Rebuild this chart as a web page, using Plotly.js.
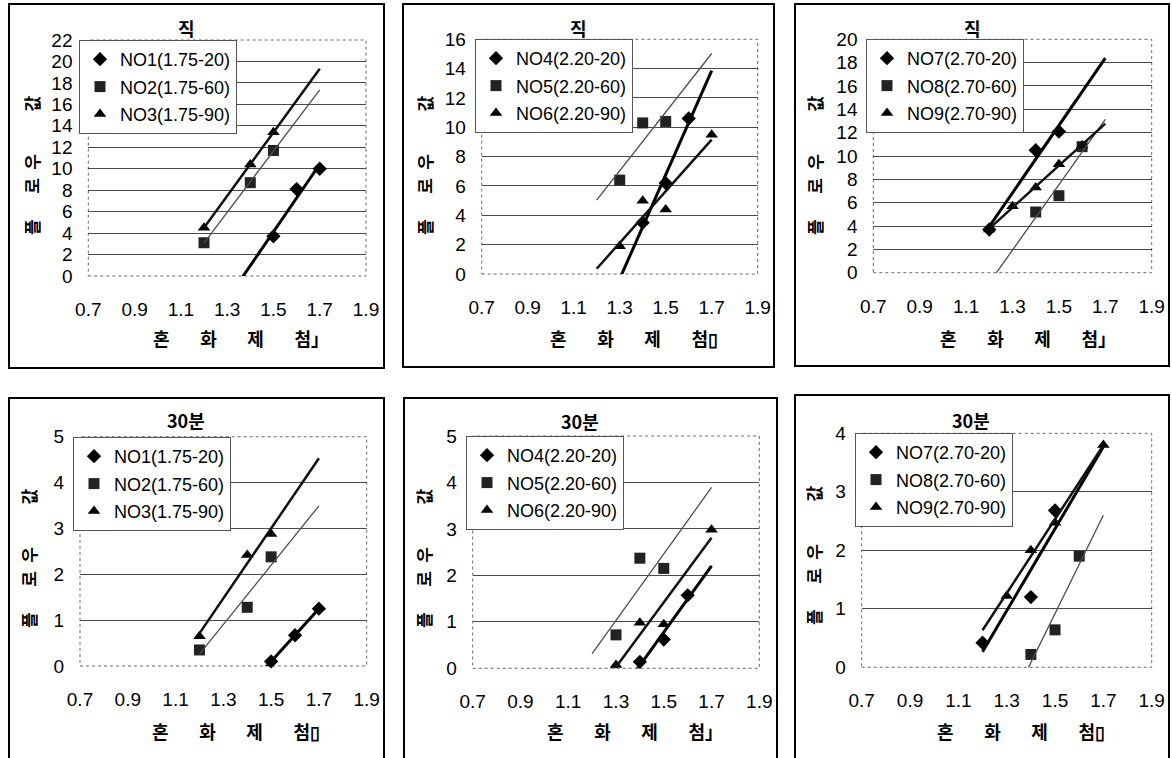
<!DOCTYPE html>
<html>
<head>
<meta charset="utf-8">
<script src="https://cdn.plot.ly/plotly-3.0.1.min.js"></script>
<style>
  html, body { margin: 0; padding: 0; background: #fff; }
  #chart { width: 1172px; height: 758px; }
</style>
</head>
<body>
<div id="chart"></div>
<script>
// ---- data -------------------------------------------------------------
// admixture dosage ticks shared by every panel
const xTicks = [0.7, 0.9, 1.1, 1.3, 1.5, 1.7, 1.9];
// span over which every linear trend line is evaluated
const trendX = [1.2, 1.7];

const panelTitles = ['직', '직', '직', '30분', '30분', '30분'];
const xTitles = ['혼 화 제 첨」', '혼 화 제 첨▯', '혼 화 제 첨」', '혼 화 제 첨▯', '혼 화 제 첨」', '혼 화 제 첨▯'];
const yTitle = '플 로 우 값';

const yTicks1 = [0, 2, 4, 6, 8, 10, 12, 14, 16, 18, 20, 22];
const yTicks2 = [0, 2, 4, 6, 8, 10, 12, 14, 16];
const yTicks3 = [0, 2, 4, 6, 8, 10, 12, 14, 16, 18, 20];
const yTicks4 = [0, 1, 2, 3, 4, 5];
const yTicks5 = [0, 1, 2, 3, 4, 5];
const yTicks6 = [0, 1, 2, 3, 4];

const names1 = ['NO1(1.75-20)', 'NO2(1.75-60)', 'NO3(1.75-90)'];
const names2 = ['NO4(2.20-20)', 'NO5(2.20-60)', 'NO6(2.20-90)'];
const names3 = ['NO7(2.70-20)', 'NO8(2.70-60)', 'NO9(2.70-90)'];

// immediately after mixing
const x1 = [[1.5, 1.6, 1.7], [1.2, 1.4, 1.5], [1.2, 1.4, 1.5]];
const y1 = [[3.7, 8.1, 10.0], [3.1, 8.7, 11.7], [4.5, 10.4, 13.4]];
const x2 = [[1.4, 1.5, 1.6], [1.3, 1.4, 1.5], [1.3, 1.4, 1.5, 1.7]];
const y2 = [[3.5, 6.2, 10.6], [6.4, 10.3, 10.4], [1.9, 5.0, 4.4, 9.5]];
const x3 = [[1.2, 1.4, 1.5], [1.4, 1.5, 1.6], [1.2, 1.3, 1.4, 1.5, 1.6]];
const y3 = [[3.7, 10.5, 12.1], [5.2, 6.6, 10.8], [3.7, 5.7, 7.3, 9.3, 10.9]];
// after 30 minutes
const x4 = [[1.5, 1.6, 1.7], [1.2, 1.4, 1.5], [1.2, 1.4, 1.5]];
const y4 = [[0.1, 0.67, 1.25], [0.35, 1.28, 2.38], [0.65, 2.42, 2.88]];
const x5 = [[1.4, 1.5, 1.6], [1.3, 1.4, 1.5], [1.3, 1.4, 1.5, 1.7]];
const y5 = [[0.14, 0.62, 1.57], [0.72, 2.37, 2.15], [0.07, 0.98, 0.95, 2.98]];
const x6 = [[1.2, 1.4, 1.5], [1.4, 1.5, 1.6], [1.3, 1.4, 1.5, 1.7]];
const y6 = [[0.42, 1.2, 2.68], [0.22, 0.64, 1.9], [1.22, 2.0, 2.47, 3.8]];

// ---- layout helpers -----------------------------------------------------
const W = 1172, H = 758;
const px = v => v / W;
const py = v => 1 - v / H;

// pixel boxes: plot area, outer frame, title centre, axis titles, legend corner
const geom = [
  { plot: [88.3, 40, 366, 276],      frame: [9, 4, 384, 368],     title: [187, 28],  xt: [151, 338], yt: [32, 166],  leg: [79, 40] },
  { plot: [481.7, 39.3, 757.7, 274], frame: [403, 4, 774, 367],   title: [578, 28],  xt: [548, 338], yt: [425, 166], leg: [475, 39] },
  { plot: [873.3, 39.3, 1151.7, 272.7], frame: [795, 4, 1169, 366], title: [972, 28], xt: [938, 338], yt: [815, 166], leg: [866, 39] },
  { plot: [80, 436.7, 366.7, 666],   frame: [9, 398, 384, 775],   title: [186, 420], xt: [150, 731], yt: [28, 559],  leg: [73, 437] },
  { plot: [472.7, 436, 759.3, 668.3], frame: [404, 398, 777, 775], title: [580, 421], xt: [545, 731], yt: [423, 559], leg: [466, 436] },
  { plot: [861.7, 433.3, 1151.7, 667.3], frame: [795, 395, 1169, 775], title: [971, 420], xt: [935, 731], yt: [813, 556], leg: [855, 433] }
];

const panelNames = [names1, names2, names3, names1, names2, names3];
const panelX = [x1, x2, x3, x4, x5, x6];
const panelY = [y1, y2, y3, y4, y5, y6];
const panelYTicks = [yTicks1, yTicks2, yTicks3, yTicks4, yTicks5, yTicks6];

const symbols = ['diamond', 'square', 'triangle-up'];
const markerColors = ['#000000', '#222222', '#000000'];
const lineColors = ['#000000', '#4d4d4d', '#111111'];
const lineWidths = [3, 1.3, 2.5];

const latin = 'Liberation Sans, Arial, "Noto Sans CJK KR", sans-serif';
const hangul = '"Noto Sans CJK KR", "Noto Sans", sans-serif';

// least-squares straight line through a series
function linearFit(xs, ys) {
  const n = xs.length;
  const mx = xs.reduce((a, b) => a + b, 0) / n;
  const my = ys.reduce((a, b) => a + b, 0) / n;
  let sxy = 0, sxx = 0;
  for (let i = 0; i < n; i++) {
    sxy += (xs[i] - mx) * (ys[i] - my);
    sxx += (xs[i] - mx) * (xs[i] - mx);
  }
  const slope = sxy / sxx;
  return x => my + slope * (x - mx);
}

const traces = [];
const layout = {
  width: W, height: H,
  margin: { l: 0, r: 0, t: 0, b: 0 },
  paper_bgcolor: '#ffffff',
  plot_bgcolor: '#ffffff',
  font: { family: latin, size: 19, color: '#000' },
  showlegend: true,
  shapes: [],
  annotations: []
};

geom.forEach((g, p) => {
  const k = p === 0 ? '' : String(p + 1);
  const xa = 'x' + k, ya = 'y' + k;
  const legId = 'legend' + k;
  const yt = panelYTicks[p];

  layout['xaxis' + k] = {
    domain: [px(g.plot[0]), px(g.plot[2])],
    anchor: ya,
    range: [0.7, 1.9],
    tickvals: xTicks,
    ticktext: xTicks.map(v => v.toFixed(1)),
    showgrid: false, zeroline: false, showline: false,
    ticks: 'outside', ticklen: 16, tickcolor: 'rgba(0,0,0,0)',
    tickfont: { size: 19, family: latin, color: '#000' },
    fixedrange: true
  };
  layout['yaxis' + k] = {
    domain: [py(g.plot[3]), py(g.plot[1])],
    anchor: xa,
    range: [yt[0], yt[yt.length - 1]],
    tickvals: yt,
    ticktext: yt.map(String),
    showgrid: true, gridcolor: '#4a4a4a', gridwidth: 1,
    zeroline: false, showline: false,
    ticks: 'outside', ticklen: 11, tickcolor: 'rgba(0,0,0,0)',
    tickfont: { size: 19, family: latin, color: '#000' },
    fixedrange: true
  };

  layout[legId] = {
    x: px(g.leg[0]), y: py(g.leg[1]),
    xanchor: 'left', yanchor: 'top',
    bgcolor: '#ffffff', bordercolor: '#555555', borderwidth: 1,
    font: { size: 18, family: latin, color: '#000' },
    tracegroupgap: 1,
    itemwidth: 30
  };

  // markers for the three series
  for (let s = 0; s < 3; s++) {
    traces.push({
      type: 'scatter', mode: 'markers',
      x: panelX[p][s], y: panelY[p][s],
      xaxis: xa, yaxis: ya,
      name: panelNames[p][s],
      legend: legId,
      legendgroup: 'p' + p + 's' + s,
      marker: { symbol: symbols[s], size: 11, color: markerColors[s], line: { width: 0 } },
      cliponaxis: false,
      hoverinfo: 'x+y+name'
    });
  }
  // linear trend lines drawn over the points
  for (let s = 0; s < 3; s++) {
    const f = linearFit(panelX[p][s], panelY[p][s]);
    traces.push({
      type: 'scatter', mode: 'lines',
      x: trendX, y: trendX.map(f),
      xaxis: xa, yaxis: ya,
      showlegend: false,
      legend: legId,
      line: { color: lineColors[s], width: lineWidths[s] },
      hoverinfo: 'skip'
    });
  }

  // dotted plot-area border
  layout.shapes.push({
    type: 'rect', xref: xa + ' domain', yref: ya + ' domain',
    x0: 0, x1: 1, y0: 0, y1: 1,
    line: { color: '#6a6a6a', width: 1, dash: 'dot' },
    fillcolor: 'rgba(0,0,0,0)', layer: 'below'
  });
  // outer chart frame
  layout.shapes.push({
    type: 'rect', xref: 'paper', yref: 'paper',
    x0: px(g.frame[0]), x1: px(g.frame[2]), y0: py(g.frame[3]), y1: py(g.frame[1]),
    line: { color: '#000000', width: 2 },
    fillcolor: 'rgba(0,0,0,0)', layer: 'above'
  });

  // chart title
  layout.annotations.push({
    xref: 'paper', yref: 'paper', x: px(g.title[0]), y: py(g.title[1]),
    xanchor: 'center', yanchor: 'middle', showarrow: false,
    text: panelTitles[p],
    font: { family: hangul, size: 18, color: '#000', weight: 'bold' }
  });
  // x-axis title
  layout.annotations.push({
    xref: 'paper', yref: 'paper', x: px(g.xt[0]), y: py(g.xt[1]),
    xanchor: 'left', yanchor: 'middle', showarrow: false,
    text: xTitles[p].split(' ').join('\u2003\u2002\u2009'),
    font: { family: hangul, size: 18, color: '#000', weight: 'bold' }
  });
  // y-axis title, read bottom to top
  const yw = yTitle.split(' ');
  layout.annotations.push({
    xref: 'paper', yref: 'paper', x: px(g.yt[0]), y: py(g.yt[1]),
    xanchor: 'center', yanchor: 'middle', showarrow: false,
    textangle: -90,
    text: yw[0] + '\u2003\u2002' + yw[1] + '\u2002' + yw[2] + '\u2003\u2003\u2002' + yw[3],
    font: { family: hangul, size: 17, color: '#000', weight: 'bold' }
  });
});

Plotly.newPlot('chart', traces, layout, { displayModeBar: false, staticPlot: true });
</script>
</body>
</html>
